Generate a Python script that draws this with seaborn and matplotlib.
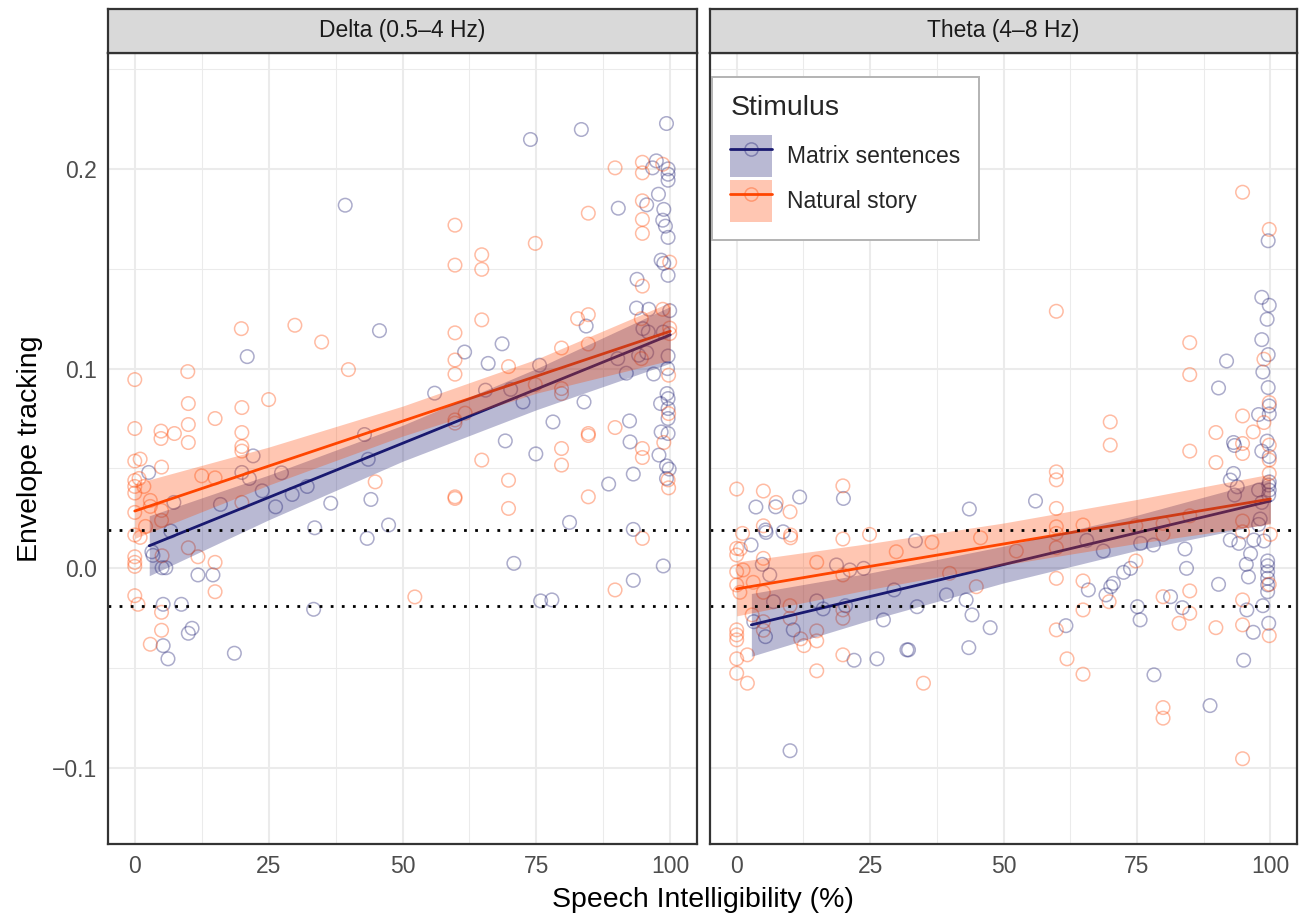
import numpy as np
import pandas as pd
import matplotlib
matplotlib.use("Agg")
import matplotlib.pyplot as plt
import seaborn as sns
from matplotlib.patches import Patch
from matplotlib.lines import Line2D
from matplotlib.legend_handler import HandlerTuple

# ---------------- data ----------------
bands = ["Delta (0.5–4 Hz)", "Theta (4–8 Hz)"]
stimuli = ["Matrix sentences", "Natural story"]
stim_colors = ["#191970", "#FF4500"]
x_ticks = [0, 25, 50, 75, 100]
x_minor = [12.5, 37.5, 62.5, 87.5]
y_ticks = [-0.1, 0.0, 0.1, 0.2]
y_minor = [-0.05, 0.05, 0.15, 0.25]
y_tick_labels = ["−0.1", "0.0", "0.1", "0.2"]
thresholds = [0.019, -0.019]

delta_natural_x = [0, 0, 0, 1, 0, 0.8, 0, 1.7, 0, 2.9, 2.9, 0, 2, 0, 1, 0, 0, 0, 0, 0.6, 2.9,
                   4.9, 4.9, 5, 5, 5, 5.1, 5, 5, 7.4, 9.9, 10, 10, 10, 10, 11.8, 12.5,
                   15, 15, 15, 15, 19.9, 20, 20, 20, 20, 20, 25, 29.9, 34.9, 39.9, 44.9, 52.3,
                   59.8, 59.8, 59.8, 59.8, 59.8, 59.8, 59.8, 59.8, 59.8, 61.7,
                   64.8, 64.8, 64.8, 64.8, 69.8, 69.8, 69.8, 74.8, 74.8,
                   79.7, 79.7, 79.7, 79.7, 79.7, 82.7, 84.7, 84.7, 84.7, 84.7, 84.7, 84.7,
                   89.7, 89.7, 89.7, 94.8, 94.8, 94.8, 94.8, 94.8, 94.8, 94.6, 94.6, 94.8, 94.8, 94.8,
                   98.6, 98.6, 99.9, 99.9, 99.9, 99.7, 99.7, 98.8, 99.6, 99.7]
delta_natural_y = [0.0945, 0.070, 0.0537, 0.0547, 0.044, 0.045, 0.041, 0.041, 0.0377, 0.034, 0.031,
                   0.028, 0.021, 0.0167, 0.0155, 0.0058, 0.003, 0.001, -0.0137, -0.018, -0.038,
                   0.0687, 0.065, 0.0507, 0.029, 0.024, 0.0063, -0.022, -0.031, 0.0675,
                   0.0985, 0.0825, 0.072, 0.063, 0.0103, 0.0058, 0.0463,
                   0.075, 0.0453, 0.003, -0.0117, 0.120, 0.0805, 0.068, 0.061, 0.0587, 0.033,
                   0.0845, 0.1217, 0.1133, 0.0995, 0.0433, -0.0143,
                   0.1718, 0.1518, 0.1179, 0.1043, 0.0972, 0.0743, 0.0727, 0.035, 0.0358, 0.0777,
                   0.157, 0.1497, 0.1244, 0.0542, 0.101, 0.0441, 0.030, 0.1627, 0.092,
                   0.1103, 0.090, 0.0875, 0.060, 0.0517, 0.125, 0.1778, 0.127, 0.1123, 0.0675, 0.0665, 0.0358,
                   0.2005, 0.0705, -0.0108, 0.2033, 0.198, 0.184, 0.1747, 0.1677, 0.1413, 0.125, 0.105,
                   0.060, 0.0555, 0.015,
                   0.2023, 0.1297, 0.1533, 0.1203, 0.1175, 0.0967, 0.0775, 0.063, 0.0443, 0.0403]

delta_matrix_x = [2.6, 3.2, 3.4, 5.1, 5.8, 5.3, 5.3, 6.2, 6.7, 7.3, 8.7, 10.7, 10, 11.8, 14.6, 16,
                  18.6, 20, 21, 21.4, 22.1, 23.8, 26.3, 27.4, 29.4, 32.2, 33.4, 33.6, 36.6, 39.3,
                  42.9, 43.4, 43.6, 44.1, 45.7, 47.4, 56, 61.6, 65.5, 66, 68.6, 69.2, 70.2, 70.8,
                  72.5, 73.9, 74.9, 75.6, 75.8, 77.9, 78.1, 81.2, 83.4, 83.9, 84.3, 88.5, 90.2,
                  90.3, 91.8, 92.4, 92.5, 93.1, 93.1, 93.1, 93.7, 93.8, 94.1, 94.9, 95.6, 95.6,
                  95.9, 96, 96.7, 96.9, 97.4, 97.8, 97.9, 98.2, 98.3, 98.3, 98.6, 98.7, 98.7,
                  98.8, 98.8, 99.1, 99.3, 99.3, 99.3, 99.4, 99.5, 99.6, 99.6, 99.6, 99.6, 99.6,
                  99.6, 99.6, 99.6, 99.6, 99.6, 99.8, 99.9]
delta_matrix_y = [0.048, 0.0083, 0.0065, 0.0003, 0.0003, -0.018, -0.0387, -0.0453, 0.0187, 0.033,
                  -0.018, -0.030, -0.0325, -0.0033, -0.0033, 0.032, -0.0425, 0.048, 0.106, 0.045,
                  0.0563, 0.0388, 0.0308, 0.0478, 0.037, 0.041, -0.0205, 0.0203, 0.0326, 0.1818,
                  0.067, 0.015, 0.0546, 0.0345, 0.119, 0.0217, 0.0877, 0.1083, 0.0892, 0.1026,
                  0.1124, 0.0638, 0.0896, 0.0025, 0.0833, 0.2147, 0.0573, 0.1017, -0.0163, -0.0158,
                  0.0733, 0.023, 0.2197, 0.0833, 0.1213, 0.0422, 0.105, 0.1803, 0.0977, 0.0738,
                  0.0633, 0.0472, 0.0195, -0.006, 0.1303, 0.1447, 0.1067, 0.120, 0.182, 0.108,
                  0.1183, 0.1297, 0.2005, 0.0973, 0.204, 0.1873, 0.0567, 0.0825, 0.1543, 0.0683,
                  0.1743, 0.1183, 0.0012, 0.1797, 0.1527, 0.1713, 0.2227, 0.0513, 0.045, 0.0875,
                  0.100, 0.200, 0.1973, 0.1943, 0.1657, 0.1467, 0.1063, 0.085, 0.080, 0.075,
                  0.0675, 0.0497, 0.129]

theta_natural_x = [0, 5, 7.4, 10, 19.9, 5, 1.1, 10.1, 10.1, 0, 0.7, 0, 19.9, 24.9, 29.9, 5, 15,
                   19.9, 0, 1.2, 0, 3.1, 0.6, 5, 10, 10, 19.9, 19.9, 2.9, 5, 5, 0, 0, 0, 15, 15,
                   12, 12.6, 2, 19.9, 0, 0, 2, 15,
                   59.9, 59.9, 59.9, 59.9, 59.9, 59.9, 59.9, 36.6, 45.7, 52.4, 64.9, 39.9, 44.9,
                   59.9, 64.9, 64.9, 59.9, 61.9, 64.9, 35,
                   94.8, 99.8, 84.9, 98.8, 84.9, 99.8, 98.8, 94.8, 70, 70, 89.8, 96.8, 94.8, 94.8,
                   84.9, 89.8, 99.8, 99.8, 99.8, 94.8, 94.8, 100, 84.9, 79.9, 79.9, 74.8, 74.8,
                   99.8, 69.8, 84.9, 79.9, 94.8, 84.9, 82.9, 89.8, 94.8, 99.8, 79.9, 79.9, 94.8]
theta_natural_y = [0.0397, 0.0387, 0.033, 0.0283, 0.0413, 0.0213, 0.0175, 0.0167, 0.0153, 0.010,
                   0.0097, 0.0067, 0.0147, 0.017, 0.0083, 0.005, 0.003, -0.0033, -0.0017, -0.0008,
                   -0.0083, -0.007, -0.012, -0.012, -0.0187, -0.025, -0.0208, -0.025, -0.0233,
                   -0.0267, -0.031, -0.0308, -0.0333, -0.0358, -0.0313, -0.0363, -0.0353, -0.0387,
                   -0.0433, -0.0433, -0.0453, -0.0525, -0.0575, -0.0513,
                   0.1287, 0.0483, 0.0443, 0.030, 0.0208, 0.0175, 0.0103, 0.013, 0.0153, 0.0087,
                   0.0217, -0.0025, -0.0092, -0.005, -0.0063, -0.0208, -0.0308, -0.0453, -0.053,
                   -0.0575,
                   0.1883, 0.1697, 0.113, 0.1047, 0.097, 0.083, 0.073, 0.0763, 0.0733, 0.0617,
                   0.068, 0.0683, 0.0625, 0.0575, 0.0587, 0.053, 0.0617, 0.0543, 0.0475, 0.0237,
                   0.0183, 0.017, 0.0263, 0.0225, 0.017, 0.0213, 0.0037, -0.008, -0.0167, -0.0113,
                   -0.0142, -0.0158, -0.0225, -0.0275, -0.0297, -0.0283, -0.0337, -0.0697, -0.075,
                   -0.0953]

theta_matrix_x = [11.8, 3.6, 7.3, 20, 5.4, 5.5, 8.7, 2.7, 4.8, 18.7, 21.2, 23.8, 6.2, 6.9, 15,
                  16.2, 20.4, 29.5, 27.5, 3.2, 10.6, 5.4, 22, 26.3, 31.9, 10,
                  56, 43.6, 33.5, 65.6, 39.3, 43, 33.8, 65.9, 44.1, 47.5, 61.7, 32.2, 43.5,
                  99.6, 98.4, 99.8, 99.4, 98.4, 91.8, 99.6, 98.6, 90.3, 99.6, 99.8, 97.8, 99.8,
                  93.1, 93.3, 99.4, 98.4, 99.8, 93.1, 92.5, 93.8, 99.8, 97.8, 99.8, 93.3, 99.7,
                  99.7, 98.4, 98.1, 97.8, 75.7, 78.1, 84, 68.7, 92.5, 94.1, 96.9, 98.8, 96.3,
                  95.5, 95.9, 73.8, 72.5, 84.3, 99.5, 99.5, 99.5, 99.5, 99.5, 99.5, 70.6, 70.1,
                  69.2, 90.3, 81.3, 98.6, 75.1, 83.5, 95.6, 75.6, 99.7, 96.8, 95, 78.2, 88.7]
theta_matrix_y = [0.0357, 0.0307, 0.0308, 0.035, 0.0192, 0.018, 0.0183, 0.0117, 0.002, 0.0017,
                  -0.0008, 0.0, -0.0033, -0.0167, -0.0163, -0.0203, -0.0187, -0.0108, -0.0258,
                  -0.0267, -0.0308, -0.0342, -0.046, -0.0453, -0.0408, -0.0913,
                  0.0337, 0.0297, 0.0138, 0.014, -0.0133, -0.0158, -0.0192, -0.0108, -0.0233,
                  -0.0297, -0.0287, -0.0408, -0.0397,
                  0.164, 0.1357, 0.1317, 0.1247, 0.1145, 0.1038, 0.107, 0.0983, 0.0903, 0.0905,
                  0.0813, 0.077, 0.0773, 0.063, 0.0615, 0.0637, 0.0587, 0.056, 0.0475, 0.0442,
                  0.0408, 0.0433, 0.0392, 0.0392, 0.0367, 0.0417, 0.0367, 0.033, 0.0247, 0.022,
                  0.0125, 0.0117, 0.0097, 0.0087, 0.0142, 0.0125, 0.0142, 0.0137, 0.0073, 0.002,
                  -0.0043, 0.0, -0.002, 0.0, 0.0037, 0.0013, -0.0017, -0.005, -0.0083, -0.0117,
                  -0.0075, -0.0092, -0.0133, -0.008, -0.0142, -0.0187, -0.0192, -0.0197, -0.0208,
                  -0.0258, -0.0275, -0.032, -0.046, -0.0533, -0.0687]

# linear-model fits (value and 95% band)
delta_matrix_fit_x = [2.7, 25, 50, 75, 100]
delta_matrix_fit_y = [0.0113, 0.0355, 0.0626, 0.0897, 0.1169]
delta_matrix_fit_lo = [-0.0037, 0.0243, 0.0536, 0.0794, 0.1027]
delta_matrix_fit_hi = [0.0263, 0.0467, 0.0716, 0.1000, 0.1311]
delta_natural_fit_x = [0, 25, 50, 75, 100]
delta_natural_fit_y = [0.0287, 0.0512, 0.0737, 0.0962, 0.1187]
delta_natural_fit_lo = [0.0150, 0.0417, 0.0662, 0.0877, 0.1042]
delta_natural_fit_hi = [0.0424, 0.0607, 0.0812, 0.1047, 0.1332]
theta_matrix_fit_x = [2.75, 25, 50, 75, 100]
theta_matrix_fit_y = [-0.0283, -0.0141, 0.0019, 0.0178, 0.0337]
theta_matrix_fit_lo = [-0.0440, -0.0259, -0.0073, 0.0090, 0.0227]
theta_matrix_fit_hi = [-0.0126, -0.0023, 0.0111, 0.0266, 0.0447]
theta_natural_fit_x = [0, 25, 50, 75, 100]
theta_natural_fit_y = [-0.0103, 0.0010, 0.0122, 0.0235, 0.0347]
theta_natural_fit_lo = [-0.0238, -0.0105, 0.0017, 0.0125, 0.0222]
theta_natural_fit_hi = [0.0032, 0.0125, 0.0227, 0.0345, 0.0472]

# ---------------- assemble ----------------
points = {
    (bands[0], stimuli[0]): (delta_matrix_x, delta_matrix_y),
    (bands[0], stimuli[1]): (delta_natural_x, delta_natural_y),
    (bands[1], stimuli[0]): (theta_matrix_x, theta_matrix_y),
    (bands[1], stimuli[1]): (theta_natural_x, theta_natural_y),
}
fits = {
    (bands[0], stimuli[0]): (delta_matrix_fit_x, delta_matrix_fit_y, delta_matrix_fit_lo, delta_matrix_fit_hi),
    (bands[0], stimuli[1]): (delta_natural_fit_x, delta_natural_fit_y, delta_natural_fit_lo, delta_natural_fit_hi),
    (bands[1], stimuli[0]): (theta_matrix_fit_x, theta_matrix_fit_y, theta_matrix_fit_lo, theta_matrix_fit_hi),
    (bands[1], stimuli[1]): (theta_natural_fit_x, theta_natural_fit_y, theta_natural_fit_lo, theta_natural_fit_hi),
}
rows = []
for (b, s), (xs, ys) in points.items():
    for xv, yv in zip(xs, ys):
        rows.append({"band": b, "stimulus": s, "intelligibility": xv, "tracking": yv})
df = pd.DataFrame(rows)

# ---------------- style ----------------
sns.set_style("white")
plt.rcParams["font.family"] = ["Liberation Sans", "DejaVu Sans"]

W, H = 1301, 917
fig = plt.figure(figsize=(W / 100, H / 100), dpi=100)
panel_px = [(108, 589), (710, 587)]
top_px, bot_px = 53, 844
axes = []
for (x0, w) in panel_px:
    ax = fig.add_axes([x0 / W, (H - bot_px) / H, w / W, (bot_px - top_px) / H])
    axes.append(ax)

grid_col = "#EBEBEB"
border_col = "#333333"
small_fs = 16.5
big_fs = 20.5

for i, (ax, band) in enumerate(zip(axes, bands)):
    ax.set_facecolor("white")
    ax.set_xlim(-5, 105)
    ax.set_ylim(-0.138, 0.258)
    ax.set_xticks(x_ticks)
    ax.set_xticklabels([str(t) for t in x_ticks])
    ax.set_xticks(x_minor, minor=True)
    ax.set_yticks(y_ticks)
    ax.set_yticks(y_minor, minor=True)
    if i == 0:
        ax.set_yticklabels(y_tick_labels)
    else:
        ax.set_yticklabels([])
        ax.tick_params(axis="y", which="major", left=False, labelleft=False)
    ax.set_axisbelow(True)
    ax.grid(which="major", color=grid_col, lw=1.5)
    ax.grid(which="minor", color=grid_col, lw=0.75)
    ax.tick_params(which="minor", length=0)
    ax.tick_params(which="major", length=4, width=1.1, color=border_col,
                   labelsize=small_fs, labelcolor="#4D4D4D", pad=4)
    for sp in ax.spines.values():
        sp.set_color(border_col)
        sp.set_linewidth(1.6)
        sp.set_zorder(10)

    # points
    for s, c in zip(stimuli, stim_colors):
        sub = df[(df["band"] == band) & (df["stimulus"] == s)]
        sns.scatterplot(data=sub, x="intelligibility", y="tracking", ax=ax,
                        color=c, marker="o", s=95, facecolors="none", edgecolor=c,
                        linewidth=1.1, alpha=0.36, legend=False, zorder=2)
    # fitted lines
    for s, c in zip(stimuli, stim_colors):
        fx, fy, flo, fhi = fits[(band, s)]
        sns.lineplot(x=fx, y=fy, ax=ax, color=c, lw=2.0, estimator=None, sort=False, zorder=3)
    # confidence bands
    for s, c in zip(stimuli, stim_colors):
        fx, fy, flo, fhi = fits[(band, s)]
        ax.fill_between(fx, flo, fhi, color=c, alpha=0.3, lw=0, zorder=4)
    for t in thresholds:
        ax.axhline(t, color="black", lw=2.0, ls=(0, (1, 3.0)), zorder=5)
    ax.set_xlabel("")
    ax.set_ylabel("")

    # strip
    x0, w = panel_px[i]
    sax = fig.add_axes([x0 / W, (H - top_px) / H, w / W, 44 / H])
    sax.set_facecolor("#D9D9D9")
    sax.set_xticks([])
    sax.set_yticks([])
    for sp in sax.spines.values():
        sp.set_color(border_col)
        sp.set_linewidth(1.6)
    sax.text(0.5, 0.5, band, ha="center", va="center", fontsize=small_fs,
             color="#1A1A1A", transform=sax.transAxes)

fig.text((108 + 1297) / 2 / W, 1 - 900 / H, "Speech Intelligibility (%)",
         ha="center", va="center", fontsize=big_fs, color="black")
fig.text(30 / W, 1 - 449 / H, "Envelope tracking", ha="center", va="center",
         rotation=90, fontsize=big_fs, color="black")

# legend
handles = []
for c in stim_colors:
    patch = Patch(facecolor=c, alpha=0.3, edgecolor="none")
    line = Line2D([], [], color=c, lw=2.0, marker="o", markersize=9.5,
                  markerfacecolor="none",
                  markeredgecolor=matplotlib.colors.to_rgba(c, 0.36),
                  markeredgewidth=1.1)
    handles.append((patch, line))
leg = axes[1].legend(handles, stimuli, title="Stimulus", loc="upper left",
                     bbox_to_anchor=(2 / 587, (844 - 77) / 791),
                     handler_map={tuple: HandlerTuple(ndivide=1, pad=0)},
                     fontsize=small_fs, title_fontsize=big_fs, frameon=True,
                     fancybox=False, framealpha=1, edgecolor="#B3B3B3",
                     handlelength=1.83, handleheight=2.44, labelspacing=0.13,
                     handletextpad=0.65, borderpad=0.8, borderaxespad=0,
                     alignment="left")
leg.get_frame().set_linewidth(1.4)
leg._legend_box.sep = 10
leg.set_zorder(20)

fig.savefig("out.png", dpi=100)
